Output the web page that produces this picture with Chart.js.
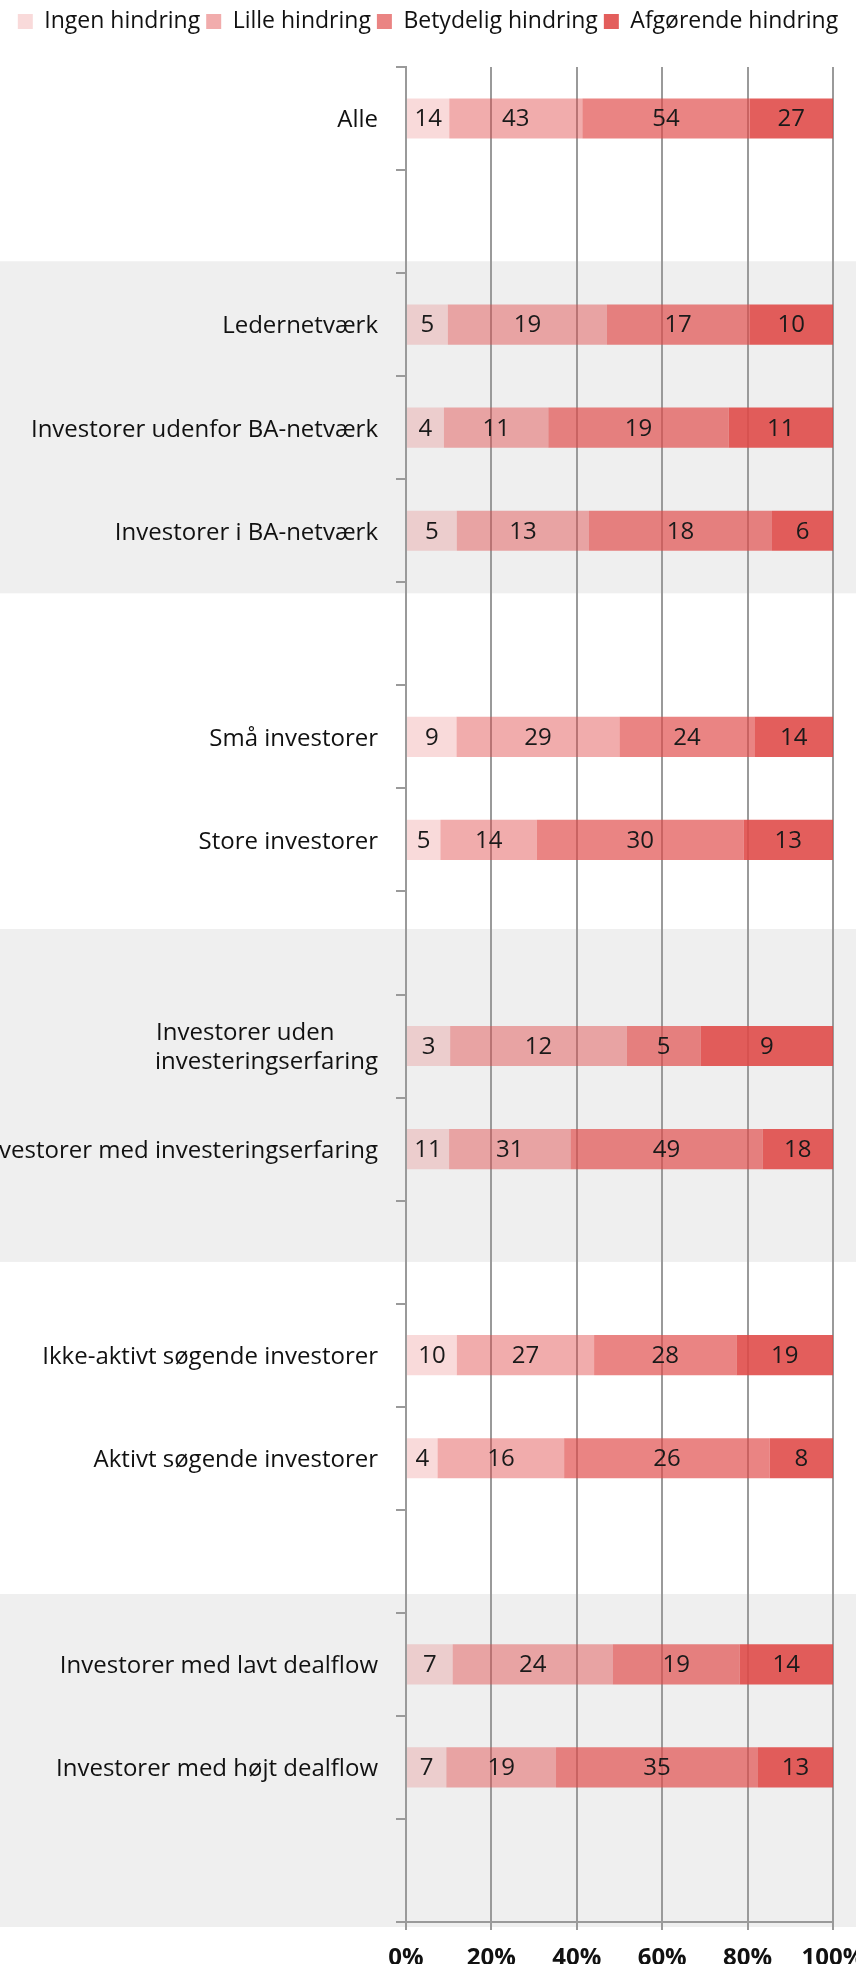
<!DOCTYPE html>
<html lang="da">
<head>
<meta charset="utf-8">
<title>Hindringer</title>
<script src="https://cdn.jsdelivr.net/npm/chart.js@4.4.1/dist/chart.umd.min.js"></script>
<style>
  html, body { margin: 0; padding: 0; background: #fff; overflow: hidden; }
  #wrap { width: 856px; height: 1964px; position: relative; }
</style>
</head>
<body>
<div id="wrap"><canvas id="chart"></canvas></div>
<script>
// kategorier, '' er en tom række mellem grupperne
// (hårde mellemrum efter "uden" så de to linjer flugter til venstre)
const categories = [
  'Alle', '',
  'Ledernetværk', 'Investorer udenfor BA-netværk', 'Investorer i BA-netværk', '',
  'Små investorer', 'Store investorer', '',
  ['Investorer uden\u00a0\u00a0\u00a0\u00a0\u00a0\u00a0\u00a0', 'investeringserfaring'], 'Investorer med investeringserfaring', '',
  'Ikke-aktivt søgende investorer', 'Aktivt søgende investorer', '',
  'Investorer med lavt dealflow', 'Investorer med højt dealflow', ''
];

const seriesNames = ['Ingen hindring', 'Lille hindring', 'Betydelig hindring', 'Afgørende hindring'];

// antal svar (vises som tal i søjlerne)
const ingen      = [14, null, 5, 4, 5, null, 9, 5, null, 3, 11, null, 10, 4, null, 7, 7, null];
const lille      = [43, null, 19, 11, 13, null, 29, 14, null, 12, 31, null, 27, 16, null, 24, 19, null];
const betydelig  = [54, null, 17, 19, 18, null, 24, 30, null, 5, 49, null, 28, 26, null, 19, 35, null];
const afgoerende = [27, null, 10, 11, 6, null, 14, 13, null, 9, 18, null, 19, 8, null, 14, 13, null];

const xTicks = [0, 20, 40, 60, 80, 100];

// grå baggrundsbånd, i kategori-enheder
const bands = [[1.385, 4.607], [7.864, 11.095], [14.317, 17.548]];

const seriesAlpha = [0.2, 0.45, 0.67, 0.88];
const counts = [ingen, lille, betydelig, afgoerende];

// søjlerne er 100% stablet
const totals = categories.map((c, i) => counts.reduce((s, arr) => s + (arr[i] || 0), 0));
const share = arr => arr.map((v, i) => v == null ? null : v / totals[i] * 100);

Chart.defaults.font.family = "'Open Sans', sans-serif";

const bandPlugin = {
    id: 'bands',
    beforeDraw(chart) {
        const { ctx, scales: { y } } = chart;
        ctx.save();
        ctx.fillStyle = '#efefef';
        bands.forEach(([a, b]) => {
            const y1 = y.getPixelForValue(a);
            const y2 = y.getPixelForValue(b);
            ctx.fillRect(0, y1, chart.width, y2 - y1);
        });
        ctx.restore();
    }
};

const valueLabels = {
    id: 'valueLabels',
    afterDatasetsDraw(chart) {
        const ctx = chart.ctx;
        ctx.save();
        ctx.font = "24px 'Open Sans'";
        ctx.fillStyle = '#1a1a1a';
        ctx.textAlign = 'center';
        ctx.textBaseline = 'middle';
        chart.data.datasets.forEach((ds, di) => {
            chart.getDatasetMeta(di).data.forEach((bar, i) => {
                if (ds.counts[i] == null) return;
                const p = bar.getCenterPoint();
                ctx.fillText(ds.counts[i], p.x, p.y + 1);
            });
        });
        ctx.restore();
    }
};

// ekstra luft mellem forklaring og plot
const legendGap = {
    id: 'legendGap',
    beforeInit(chart) {
        const fit = chart.legend.fit;
        chart.legend.fit = function () {
            fit.bind(chart.legend)();
            this.height += 24;
        };
    }
};

const ctx = document.getElementById('chart').getContext('2d');

new Chart(ctx, {
    type: 'bar',
    data: {
        labels: categories,
        datasets: counts.map((arr, k) => ({
            label: seriesNames[k],
            data: share(arr),
            counts: arr,
            backgroundColor: `rgba(223, 72, 70, ${seriesAlpha[k]})`,
            borderWidth: 0,
            barPercentage: 0.39,
            categoryPercentage: 1
        }))
    },
    options: {
        indexAxis: 'y',
        responsive: true,
        maintainAspectRatio: false,
        animation: false,
        layout: { padding: { top: 4, left: 0, right: 0, bottom: 0 } },
        plugins: {
            legend: {
                position: 'top',
                labels: {
                    boxWidth: 15,
                    boxHeight: 15,
                    padding: 6,
                    color: '#111',
                    font: { size: 23 }
                }
            },
            tooltip: { enabled: false }
        },
        scales: {
            x: {
                stacked: true,
                min: 0,
                max: 100,
                grid: { color: '#9a9a9a', lineWidth: 2, tickLength: 8 },
                border: { color: '#9a9a9a', width: 2 },
                ticks: {
                    color: '#111',
                    padding: 14,
                    maxRotation: 0,
                    font: { size: 24, weight: 'bold' },
                    callback: v => v + '%'
                },
                afterBuildTicks: s => { s.ticks = xTicks.map(v => ({ value: v })); },
                afterFit: s => { s.paddingLeft = 0; s.paddingRight = 23; s.height = 42; }
            },
            y: {
                stacked: true,
                grid: { color: '#9a9a9a', lineWidth: 2, drawOnChartArea: false, tickLength: 10 },
                border: { color: '#9a9a9a', width: 2 },
                ticks: { color: '#111', padding: 18, labelOffset: 2, autoSkip: false, font: { size: 24 } },
                afterFit: s => { s.width = 406; s.paddingTop = 0; s.paddingBottom = 0; }
            }
        }
    },
    plugins: [legendGap, bandPlugin, valueLabels]
});
</script>
</body>
</html>
